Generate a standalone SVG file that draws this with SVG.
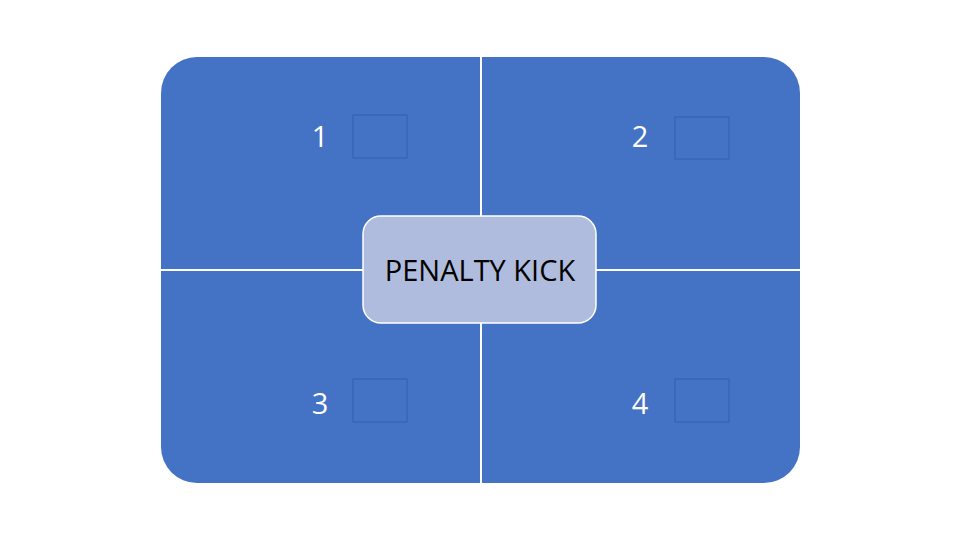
<svg xmlns="http://www.w3.org/2000/svg" width="960" height="540" viewBox="0 0 960 540">
<style>
.q{fill:#4472C4}
.box{fill:none;stroke:#3863B2;stroke-width:1.3}
.num{font-family:"Open Sans","Liberation Sans",sans-serif;font-size:29px;fill:#ffffff;text-anchor:middle}
.ctr{fill:#B0BCDD;stroke:#ffffff;stroke-width:1.5}
.lbl{font-family:"Open Sans","Liberation Sans",sans-serif;font-size:29px;fill:#000000;text-anchor:middle}
</style>
<rect width="960" height="540" fill="#ffffff"/>
<g id="quad1">
<path class="q" d="M161,269 V93 A36,36 0 0 1 197,57 H480 V269 Z"/>
<rect class="box" x="353" y="115" width="54" height="43"/>
<text class="num" x="320" y="147">1</text>
</g>
<g id="quad2">
<path class="q" d="M482,57 H764 A36,36 0 0 1 800,93 V269 H482 Z"/>
<rect class="box" x="675" y="117" width="54" height="42"/>
<text class="num" x="640" y="147">2</text>
</g>
<g id="quad3">
<path class="q" d="M161,271 H480 V483 H197 A36,36 0 0 1 161,447 Z"/>
<rect class="box" x="353" y="379" width="54" height="43"/>
<text class="num" x="320" y="414">3</text>
</g>
<g id="quad4">
<path class="q" d="M482,271 H800 V447 A36,36 0 0 1 764,483 H482 Z"/>
<rect class="box" x="675" y="379" width="54" height="43"/>
<text class="num" x="640" y="414">4</text>
</g>
<g id="connectors"></g>
<g id="center">
<rect class="ctr" x="363" y="216" width="233" height="107" rx="18" ry="18"/>
<text class="lbl" x="480" y="281">PENALTY KICK</text>
</g>
</svg>
